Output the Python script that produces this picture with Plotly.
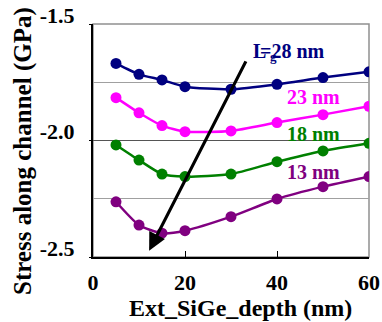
import plotly.graph_objects as go

# Extension SiGe depth (nm)
depth = [5, 10, 15, 20, 30, 40, 50, 60]

# Channel stress (GPa) for each gate length
stress_28 = [-1.669, -1.716, -1.740, -1.769, -1.780, -1.759, -1.730, -1.705]
stress_23 = [-1.816, -1.881, -1.936, -1.962, -1.959, -1.923, -1.889, -1.853]
stress_18 = [-2.019, -2.084, -2.144, -2.155, -2.144, -2.091, -2.045, -2.012]
stress_13 = [-2.263, -2.363, -2.398, -2.387, -2.327, -2.251, -2.198, -2.155]

x_ticks = [0, 20, 40, 60]
y_ticks = [-2.5, -2.0, -1.5]
y_ticklabels = ["-2.5", "-2.0", "-1.5"]

# (label, values, colour, label right edge x, label y)
series = [
    ("=28 nm", stress_28, "#000080", 50.8, -1.614),
    ("23 nm", stress_23, "#FF00FF", 54.1, -1.812),
    ("18 nm", stress_18, "#008000", 54.1, -1.974),
    ("13 nm", stress_13, "#800080", 54.1, -2.137),
]

FONT = "Liberation Serif"

fig = go.Figure()
for name, vals, color, lx, ly in series:
    fig.add_trace(go.Scatter(
        x=depth, y=vals, mode="lines+markers", name=name,
        line=dict(color=color, width=2.5, shape="spline", smoothing=0.6),
        marker=dict(color=color, size=11, symbol="circle"),
        showlegend=False,
    ))
    fig.add_annotation(x=lx, y=ly, text=name, showarrow=False, xanchor="right",
                       font=dict(family=FONT, size=20, color=color, weight="bold"))

# "L" with subscript "g" in front of the 28 nm label
fig.add_annotation(x=38.0, y=-1.614, text="L", showarrow=False, xanchor="right",
                   font=dict(family=FONT, size=20, color="#000080", weight="bold"))
fig.add_annotation(x=38.0, y=-1.614, text="g", showarrow=False, xanchor="left", yshift=-6,
                   font=dict(family=FONT, size=13, color="#000080", weight="bold"))

# Trend arrow towards shorter gate length
fig.add_annotation(x=12.2, y=-2.473, ax=33.4, ay=-1.654,
                   xref="x", yref="y", axref="x", ayref="y",
                   showarrow=True, arrowhead=2, arrowsize=1.1, arrowwidth=3.2,
                   arrowcolor="black", text="")

# Axis titles
fig.add_annotation(x=0.533, y=-0.225, xref="paper", yref="paper", yanchor="middle",
                   text="Ext_SiGe_depth (nm)", showarrow=False,
                   font=dict(family=FONT, size=24, weight="bold", color="black"))
fig.add_annotation(x=23, y=0.55, xref="paper", yref="paper", xanchor="center", yanchor="middle",
                   text="Stress along channel (GPa)", showarrow=False, textangle=-90,
                   font=dict(family=FONT, size=25, weight="bold", color="black"))

# Grey frame on top/right
fig.add_shape(type="rect", xref="x domain", yref="y domain", x0=0, y0=0, x1=1, y1=1,
              line=dict(color="#909090", width=1.5), layer="below")

fig.update_layout(
    width=382, height=322,
    margin=dict(l=93, r=13, t=24, b=65),
    plot_bgcolor="white", paper_bgcolor="white",
    font=dict(family=FONT, color="black", weight="bold"),
)
# place the axis titles in pixel terms
fig.layout.annotations[-1].x = (23 - 93) / (382 - 93 - 13)
fig.layout.annotations[-1].y = 1 - (151 - 24) / (322 - 24 - 65)
fig.layout.annotations[-2].y = -(308 - 257) / (322 - 24 - 65)

fig.update_xaxes(
    range=[0, 60], tickvals=x_ticks, automargin=False,
    ticks="inside", ticklen=6, tickcolor="black", tickwidth=1,
    showline=True, linecolor="black", linewidth=2,
    showgrid=False, zeroline=False,
    tickfont=dict(family=FONT, size=22, weight="bold"), ticklabelstandoff=5,
)
fig.update_yaxes(
    range=[-2.5, -1.5], tickvals=y_ticks, ticktext=y_ticklabels, automargin=False,
    ticks="outside", ticklen=2, tickcolor="black",
    showline=True, linecolor="black", linewidth=2,
    showgrid=True, gridcolor="#555555", gridwidth=1, zeroline=False,
    minor=dict(tickvals=[-2.25, -1.75], showgrid=True, gridcolor="#a0a0a0", gridwidth=1, ticks=""),
    tickfont=dict(family=FONT, size=22, weight="bold"), ticklabelstandoff=10, ticklabelshift=-9,
)

fig.write_html("out.html")
